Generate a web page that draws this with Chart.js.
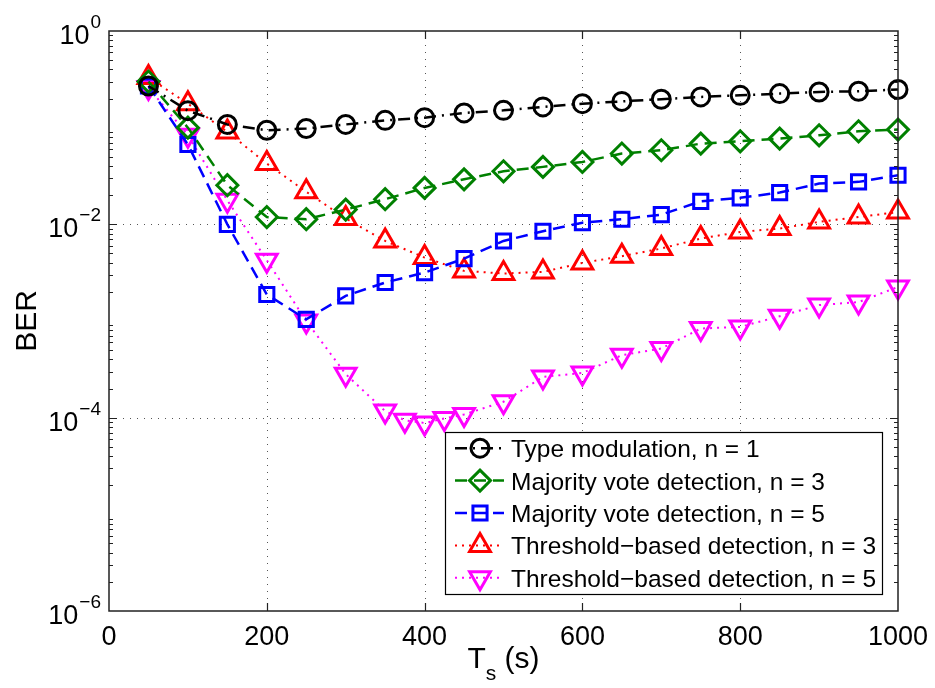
<!DOCTYPE html>
<html>
<head>
<meta charset="utf-8">
<script src="https://cdn.jsdelivr.net/npm/chart.js@4.4.0/dist/chart.umd.min.js"></script>
<style>
body { margin: 0; background: #fff; }
#wrap { width: 935px; height: 688px; position: relative; }
</style>
</head>
<body>
<div id="wrap"><canvas id="berChart"></canvas></div>
<script>
// T_s values (s)
const tsMain = [50, 100, 150, 200, 250, 300, 350, 400, 450, 500, 550, 600, 650, 700, 750, 800, 850, 900, 950, 1000];
const tsFine = [50, 100, 150, 200, 250, 300, 350, 375, 400, 425, 450, 500, 550, 600, 650, 700, 750, 800, 850, 900, 950, 1000];

// BER
const berType1 = [0.27, 0.15, 0.108, 0.094, 0.098, 0.108, 0.119, 0.127, 0.142, 0.151, 0.164, 0.177, 0.187, 0.197, 0.208, 0.216, 0.225, 0.234, 0.238, 0.248];
const berMaj3 = [0.30, 0.10, 0.0254, 0.0119, 0.0113, 0.0142, 0.0182, 0.0238, 0.0292, 0.0354, 0.0393, 0.0442, 0.054, 0.0584, 0.0684, 0.0723, 0.0771, 0.0834, 0.0918, 0.0955];
const berMaj5 = [0.27, 0.0669, 0.0100, 0.00188, 0.00104, 0.00182, 0.0025, 0.00317, 0.00442, 0.00673, 0.00849, 0.0104, 0.0113, 0.0126, 0.0173, 0.0188, 0.0213, 0.0264, 0.0275, 0.0322];
const berThr3 = [0.33, 0.177, 0.0903, 0.0425, 0.0217, 0.0115, 0.00673, 0.00453, 0.0033, 0.0031, 0.00322, 0.00399, 0.00468, 0.00562, 0.00713, 0.00835, 0.00904, 0.0106, 0.0119, 0.0134];
const berThr5 = [0.26, 0.0834, 0.0177, 0.00426, 0.0010, 0.000282, 0.000117, 0.000094, 0.000088, 0.000098, 0.000108, 0.000146, 0.000264, 0.00029, 0.000443, 0.000519, 0.000836, 0.000869, 0.00112, 0.00146, 0.00157, 0.00225];

const seriesNames = [
    'Type modulation, n = 1',
    'Majority vote detection, n = 3',
    'Majority vote detection, n = 5',
    'Threshold\u2212based detection, n = 3',
    'Threshold\u2212based detection, n = 5'
];
const xTicks = [0, 200, 400, 600, 800, 1000];
const yTickExp = [0, -2, -4, -6];
const xTitle = ['T', 's', ' (s)'];
const yTitle = 'BER';

const FONT = '"Liberation Sans", Arial, Helvetica, sans-serif';

function pairs(xs, ys) {
    return xs.map((x, i) => ({ x: x, y: ys[i] }));
}

function makeSet(label, xs, ys, color, dash, width, style, radius, rot) {
    return {
        label: label,
        data: pairs(xs, ys),
        borderColor: color,
        borderWidth: width,
        borderDash: dash,
        pointStyle: style,
        pointRadius: radius,
        pointRotation: rot || 0,
        pointBorderWidth: 3,
        pointBorderColor: color,
        pointBackgroundColor: 'rgba(0,0,0,0)',
        fill: false,
        tension: 0,
        clip: false
    };
}

const datasets = [
    makeSet(seriesNames[0], tsMain, berType1, '#000000', [12, 6, 2, 6], 2.5, 'circle', 9),
    makeSet(seriesNames[1], tsMain, berMaj3, '#008000', [12, 7], 2.5, 'rectRot', 10.5),
    makeSet(seriesNames[2], tsMain, berMaj5, '#0000ff', [12, 7], 2.5, 'rect', 10),
    makeSet(seriesNames[3], tsMain, berThr3, '#ff0000', [2, 5], 2, 'triangle', 12),
    makeSet(seriesNames[4], tsFine, berThr5, '#ff00ff', [2, 5], 2, 'triangle', 12, 180)
];

// grid, inside ticks, box, y labels, titles and legend
const matlabAxes = {
    id: 'matlabAxes',
    beforeDatasetsDraw(chart) {
        const ctx = chart.ctx;
        const a = chart.chartArea;
        const xs = chart.scales.x, ys = chart.scales.y;
        ctx.save();
        ctx.strokeStyle = '#555';
        ctx.lineWidth = 1;
        ctx.setLineDash([1, 6]);
        xTicks.slice(1, -1).forEach(v => {
            const px = Math.round(xs.getPixelForValue(v)) + 0.5;
            ctx.beginPath();
            ctx.moveTo(px, a.top);
            ctx.lineTo(px, a.bottom);
            ctx.stroke();
        });
        yTickExp.slice(1, -1).forEach(e => {
            const py = Math.round(ys.getPixelForValue(Math.pow(10, e))) + 0.5;
            ctx.beginPath();
            ctx.moveTo(a.left, py);
            ctx.lineTo(a.right, py);
            ctx.stroke();
        });
        ctx.restore();
    },
    afterDatasetsDraw(chart) {
        const ctx = chart.ctx;
        const a = chart.chartArea;
        const xs = chart.scales.x, ys = chart.scales.y;
        ctx.save();
        ctx.setLineDash([]);
        ctx.strokeStyle = '#222';
        ctx.lineWidth = 1.5;
        ctx.strokeRect(a.left, a.top, a.right - a.left, a.bottom - a.top);

        // major ticks, inside
        ctx.lineWidth = 1.2;
        ctx.beginPath();
        xTicks.slice(1, -1).forEach(v => {
            const px = Math.round(xs.getPixelForValue(v)) + 0.5;
            ctx.moveTo(px, a.bottom); ctx.lineTo(px, a.bottom - 8);
            ctx.moveTo(px, a.top); ctx.lineTo(px, a.top + 8);
        });
        yTickExp.slice(1, -1).forEach(e => {
            const py = Math.round(ys.getPixelForValue(Math.pow(10, e))) + 0.5;
            ctx.moveTo(a.left, py); ctx.lineTo(a.left + 8, py);
            ctx.moveTo(a.right, py); ctx.lineTo(a.right - 8, py);
        });
        ctx.stroke();

        // minor ticks on log axis
        ctx.lineWidth = 1;
        ctx.beginPath();
        for (let d = -6; d < 0; d++) {
            for (let k = 2; k <= 9; k++) {
                const py = Math.round(ys.getPixelForValue(k * Math.pow(10, d))) + 0.5;
                ctx.moveTo(a.left, py); ctx.lineTo(a.left + 4, py);
                ctx.moveTo(a.right, py); ctx.lineTo(a.right - 4, py);
            }
        }
        ctx.stroke();

        // y tick labels 10^e
        ctx.fillStyle = '#000';
        ctx.textBaseline = 'alphabetic';
        yTickExp.forEach(e => {
            const py = ys.getPixelForValue(Math.pow(10, e));
            const sup = e === 0 ? '0' : '\u2212' + Math.abs(e);
            ctx.font = '19px ' + FONT;
            const supW = ctx.measureText(sup).width;
            const supX = 101 - supW;
            ctx.textAlign = 'left';
            ctx.fillText(sup, supX, py - 3);
            ctx.font = '27px ' + FONT;
            ctx.textAlign = 'right';
            ctx.fillText('10', supX - 1, py + 13);
        });

        // x title with subscript
        const cx = (a.left + a.right) / 2;
        ctx.textAlign = 'left';
        ctx.font = '30px ' + FONT;
        const wT = ctx.measureText(xTitle[0]).width;
        const wP = ctx.measureText(xTitle[2]).width;
        ctx.font = '21px ' + FONT;
        const wS = ctx.measureText(xTitle[1]).width;
        let tx = cx - (wT + wS + wP) / 2;
        ctx.font = '30px ' + FONT;
        ctx.fillText(xTitle[0], tx, 668);
        ctx.font = '21px ' + FONT;
        ctx.fillText(xTitle[1], tx + wT, 680);
        ctx.font = '30px ' + FONT;
        ctx.fillText(xTitle[2], tx + wT + wS, 668);

        // y title
        ctx.save();
        ctx.translate(28, (a.top + a.bottom) / 2);
        ctx.rotate(-Math.PI / 2);
        ctx.textAlign = 'center';
        ctx.textBaseline = 'middle';
        ctx.font = '30px ' + FONT;
        ctx.fillText(yTitle, 0, 0);
        ctx.restore();

        // legend
        const L = 445, T = 432, R = 882, B = 594;
        ctx.fillStyle = '#fff';
        ctx.fillRect(L, T, R - L, B - T);
        ctx.strokeStyle = '#000';
        ctx.lineWidth = 1.2;
        ctx.strokeRect(L + 0.5, T + 0.5, R - L, B - T);
        const rowH = (B - T) / 5;
        chart.data.datasets.forEach((ds, i) => {
            const ry = T + rowH * (i + 0.5);
            ctx.strokeStyle = ds.borderColor;
            ctx.lineWidth = ds.borderWidth;
            ctx.setLineDash(ds.borderDash);
            ctx.beginPath();
            ctx.moveTo(455, ry);
            ctx.lineTo(504, ry);
            ctx.stroke();
            ctx.setLineDash([]);
            ctx.lineWidth = ds.pointBorderWidth;
            ctx.fillStyle = 'rgba(0,0,0,0)';
            Chart.helpers.drawPoint(ctx, {
                pointStyle: ds.pointStyle,
                rotation: ds.pointRotation,
                radius: ds.pointRadius,
                borderWidth: ds.pointBorderWidth
            }, 480, ry);
            ctx.fillStyle = '#000';
            ctx.font = '24.5px ' + FONT;
            ctx.textAlign = 'left';
            ctx.textBaseline = 'alphabetic';
            ctx.fillText(ds.label, 511, ry + 9);
        });
        ctx.restore();
    }
};

const berChart = new Chart(document.getElementById('berChart'), {
    type: 'line',
    data: { datasets: datasets },
    options: {
        responsive: true,
        maintainAspectRatio: false,
        animation: false,
        layout: { padding: { left: 0, top: 31, right: 37, bottom: 0 } },
        plugins: {
            legend: { display: false },
            tooltip: { enabled: false }
        },
        scales: {
            x: {
                type: 'linear',
                min: 0,
                max: 1000,
                afterBuildTicks: s => { s.ticks = xTicks.map(v => ({ value: v })); },
                afterFit: s => {
                    s.height = 77;
                    s.paddingLeft = 0;
                    s.paddingRight = 0;
                },
                ticks: {
                    color: '#000',
                    font: { family: FONT, size: 27 },
                    padding: 10,
                    maxRotation: 0,
                    autoSkip: false,
                    callback: v => String(v)
                },
                grid: { display: false, drawTicks: false },
                border: { display: false }
            },
            y: {
                type: 'logarithmic',
                min: 1e-6,
                max: 1,
                afterBuildTicks: s => { s.ticks = yTickExp.map(e => ({ value: Math.pow(10, e) })); },
                afterFit: s => {
                    s.width = 109;
                    s.paddingTop = 0;
                    s.paddingBottom = 0;
                },
                ticks: { display: false },
                grid: { display: false, drawTicks: false },
                border: { display: false }
            }
        }
    },
    plugins: [matlabAxes]
});
</script>
</body>
</html>
